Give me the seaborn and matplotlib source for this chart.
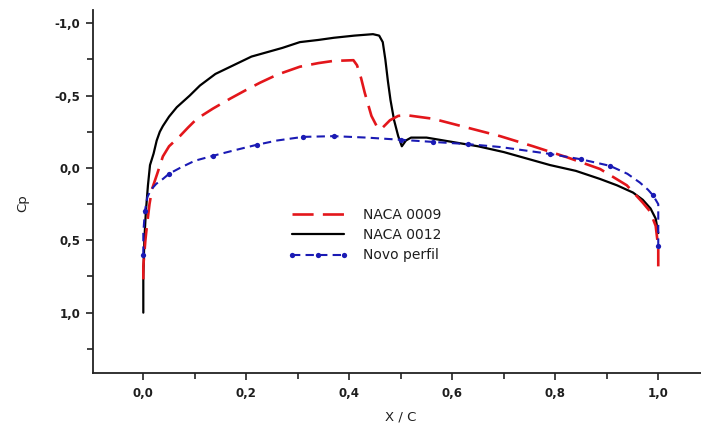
import matplotlib
matplotlib.use("Agg")
import matplotlib.pyplot as plt
import seaborn as sns
import numpy as np
from matplotlib.ticker import FixedLocator, MultipleLocator

# ---------------- data ----------------
naca0012_x = [0.0, 0.0, 0.002, 0.005, 0.009, 0.013, 0.020, 0.026, 0.032, 0.038, 0.050,
              0.065, 0.090, 0.110, 0.140, 0.175, 0.210, 0.240, 0.270, 0.304, 0.340,
              0.370, 0.410, 0.446, 0.458, 0.465, 0.470, 0.475, 0.480, 0.487, 0.495,
              0.502, 0.510, 0.520, 0.550, 0.600, 0.650, 0.700, 0.750, 0.790, 0.840,
              0.887, 0.920, 0.951, 0.970, 0.985, 0.995, 1.0]
naca0012_cp = [1.00, 0.75, 0.50, 0.30, 0.12, -0.02, -0.10, -0.19, -0.25, -0.29, -0.355,
               -0.42, -0.50, -0.57, -0.65, -0.71, -0.77, -0.80, -0.83, -0.87, -0.885,
               -0.90, -0.915, -0.925, -0.915, -0.87, -0.75, -0.60, -0.47, -0.33, -0.22,
               -0.15, -0.19, -0.21, -0.21, -0.18, -0.15, -0.11, -0.06, -0.02, 0.02,
               0.076, 0.12, 0.17, 0.22, 0.28, 0.35, 0.45]

naca0009_x = [0.0, 0.0, 0.004, 0.007, 0.012, 0.017, 0.027, 0.038, 0.050, 0.071, 0.087,
              0.104, 0.135, 0.169, 0.200, 0.227, 0.260, 0.304, 0.340, 0.369, 0.408,
              0.415, 0.423, 0.430, 0.443, 0.456, 0.465, 0.479, 0.495, 0.511, 0.563,
              0.628, 0.693, 0.757, 0.822, 0.887, 0.939, 0.970, 0.984, 0.995, 1.0, 1.0]
naca0009_cp = [0.77, 0.68, 0.50, 0.40, 0.25, 0.145, 0.04, -0.08, -0.15, -0.22, -0.28,
               -0.34, -0.41, -0.48, -0.54, -0.59, -0.645, -0.70, -0.725, -0.74, -0.745,
               -0.71, -0.62, -0.52, -0.36, -0.27, -0.28, -0.33, -0.36, -0.365, -0.34,
               -0.28, -0.22, -0.15, -0.075, 0.007, 0.12, 0.24, 0.30, 0.40, 0.55, 0.68]

novo_x = [0.0, 0.0, 0.003, 0.008, 0.015, 0.025, 0.038, 0.050, 0.071, 0.100, 0.136,
          0.180, 0.220, 0.260, 0.310, 0.370, 0.434, 0.500, 0.563, 0.630, 0.693,
          0.790, 0.850, 0.906, 0.940, 0.964, 0.980, 0.990, 1.0, 1.0]
novo_cp = [0.60, 0.45, 0.30, 0.20, 0.15, 0.11, 0.076, 0.04, 0.0, -0.05, -0.085,
           -0.125, -0.16, -0.19, -0.215, -0.22, -0.21, -0.195, -0.18, -0.165, -0.145,
           -0.097, -0.06, -0.015, 0.04, 0.10, 0.15, 0.19, 0.25, 0.54]

series_labels = ["NACA 0009", "NACA 0012", "Novo perfil"]

x_ticks = [0.0, 0.2, 0.4, 0.6, 0.8, 1.0]
x_tick_labels = ["0,0", "0,2", "0,4", "0,6", "0,8", "1,0"]
y_ticks = [-1.0, -0.5, 0.0, 0.5, 1.0]
y_tick_labels = ["-1,0", "-0,5", "0,0", "0,5", "1,0"]

# ---------------- style ----------------
sns.set_theme(style="ticks")
plt.rcParams["font.family"] = ["DejaVu Sans"]

fig = plt.figure(figsize=(7.01, 4.28), dpi=100)
ax = fig.add_axes([93 / 701, 1 - 372.7 / 428, 1 - 93 / 701, (372.7 - 10) / 428])

red = "#e3161b"
blue = "#1a1ab4"
txt = "#1e1e1e"

sns.lineplot(x=naca0012_x, y=naca0012_cp, sort=False, estimator=None, ax=ax,
             color="black", linewidth=1.6, label=series_labels[1])
sns.lineplot(x=naca0009_x, y=naca0009_cp, sort=False, estimator=None, ax=ax,
             color=red, linewidth=1.9, label=series_labels[0])
sns.lineplot(x=novo_x, y=novo_cp, sort=False, estimator=None, ax=ax,
             color=blue, linewidth=1.5, label=series_labels[2])

l_black, l_red, l_blue = ax.lines[0], ax.lines[1], ax.lines[2]
l_red.set_dashes([8, 3.5])
l_blue.set_dashes([4, 2.5])
l_blue.set_marker("o")
l_blue.set_markersize(3.8)
l_blue.set_markeredgewidth(0)
l_blue.set_markevery(0.064)

ax.set_xlim(-0.0977, 1.083)
ax.set_ylim(1.415, -1.092)

ax.xaxis.set_major_locator(FixedLocator(x_ticks))
ax.set_xticklabels(x_tick_labels)
ax.xaxis.set_minor_locator(MultipleLocator(0.1))
ax.yaxis.set_major_locator(FixedLocator(y_ticks))
ax.set_yticklabels(y_tick_labels)
ax.yaxis.set_minor_locator(MultipleLocator(0.25))

for s in ["top", "right"]:
    ax.spines[s].set_visible(False)
for s in ["left", "bottom"]:
    ax.spines[s].set_linewidth(1.3)
    ax.spines[s].set_color("#222222")

ax.tick_params(axis="both", which="major", length=5, width=1.2, color="#222222",
               labelsize=8.5, labelcolor=txt)
ax.tick_params(axis="both", which="minor", length=4, width=1.2, color="#222222")
ax.tick_params(axis="x", which="major", pad=5)
ax.tick_params(axis="y", which="major", pad=4)
for lab in ax.get_xticklabels() + ax.get_yticklabels():
    lab.set_fontweight("bold")

ax.set_xlabel("X / C", fontsize=9.5, color=txt)
ax.set_ylabel("Cp", fontsize=9.5, color=txt)
ax.xaxis.set_label_coords(0.506, -0.104)
ax.yaxis.set_label_coords(-0.105, 0.468)

handles = [l_red, l_black, l_blue]
leg = ax.legend(handles, series_labels, loc="upper left",
                bbox_to_anchor=((288 - 93) / 607, (372.7 - 208) / 362.7),
                frameon=False, fontsize=10, handlelength=4.3, handletextpad=1.1,
                labelspacing=0.45, borderpad=0, borderaxespad=0, numpoints=3)
for t in leg.get_texts():
    t.set_color(txt)

fig.savefig("out.png", dpi=100)
